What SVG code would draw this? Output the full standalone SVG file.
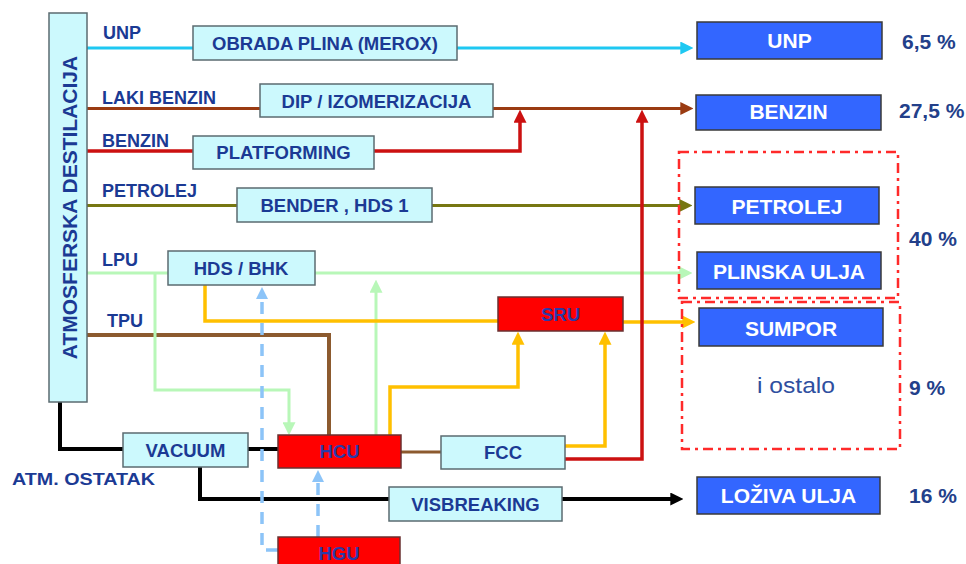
<svg xmlns="http://www.w3.org/2000/svg" width="966" height="564" viewBox="0 0 966 564">
<style>
.bx{fill:#CCF9FD;stroke:#5b6b70;stroke-width:1.5}
.rb{fill:#FF0000;stroke:#6a3030;stroke-width:1.5}
.ob{fill:#3366FF;stroke:#3a3a3a;stroke-width:1.5}
.dd{fill:none;stroke:#FF2A2A;stroke-width:2.5;stroke-dasharray:10 5 3 5}
.t{font-family:"Liberation Sans",Arial,sans-serif;font-weight:bold;fill:#1B3A94}
.bt{font-size:18.5px;text-anchor:middle}
.rt{fill:#2B3AA8}
.lb{font-size:18px}
.ot{font-family:"Liberation Sans",Arial,sans-serif;font-weight:bold;font-size:21px;fill:#FFFFFF;text-anchor:middle}
.pc{font-family:"Liberation Sans",Arial,sans-serif;font-weight:bold;font-size:21px;fill:#23408A}
.c{fill:none}
</style>
<defs>
<marker id="aCy" viewBox="0 0 12 12" refX="8" refY="6" markerWidth="13" markerHeight="13" markerUnits="userSpaceOnUse" orient="auto"><path d="M0,0 L12,6 L0,12 z" fill="#1EC8F2"/></marker>
<marker id="aBr" viewBox="0 0 12 12" refX="8" refY="6" markerWidth="13" markerHeight="13" markerUnits="userSpaceOnUse" orient="auto"><path d="M0,0 L12,6 L0,12 z" fill="#9A3B12"/></marker>
<marker id="aRd" viewBox="0 0 12 12" refX="8" refY="6" markerWidth="13" markerHeight="13" markerUnits="userSpaceOnUse" orient="auto"><path d="M0,0 L12,6 L0,12 z" fill="#CC1111"/></marker>
<marker id="aOl" viewBox="0 0 12 12" refX="8" refY="6" markerWidth="13" markerHeight="13" markerUnits="userSpaceOnUse" orient="auto"><path d="M0,0 L12,6 L0,12 z" fill="#777711"/></marker>
<marker id="aGr" viewBox="0 0 12 12" refX="8" refY="6" markerWidth="13" markerHeight="13" markerUnits="userSpaceOnUse" orient="auto"><path d="M0,0 L12,6 L0,12 z" fill="#B8F7B8"/></marker>
<marker id="aOr" viewBox="0 0 12 12" refX="8" refY="6" markerWidth="13" markerHeight="13" markerUnits="userSpaceOnUse" orient="auto"><path d="M0,0 L12,6 L0,12 z" fill="#FFC000"/></marker>
<marker id="aBk" viewBox="0 0 12 12" refX="8" refY="6" markerWidth="13" markerHeight="13" markerUnits="userSpaceOnUse" orient="auto"><path d="M0,0 L12,6 L0,12 z" fill="#000000"/></marker>
<marker id="aBl" viewBox="0 0 12 12" refX="8" refY="6" markerWidth="12" markerHeight="12" markerUnits="userSpaceOnUse" orient="auto"><path d="M0,0 L12,6 L0,12 z" fill="#8CC4F8"/></marker>
</defs>
<rect width="966" height="564" fill="#FFFFFF"/>

<g id="connectors">
  <path class="c" d="M87,48 H689" stroke="#1EC8F2" stroke-width="3" marker-end="url(#aCy)"/>
  <path class="c" d="M87,108.5 H689" stroke="#9A3B12" stroke-width="3" marker-end="url(#aBr)"/>
  <path class="c" d="M87,205.5 H688" stroke="#777711" stroke-width="3" marker-end="url(#aOl)"/>
  <path class="c" d="M87,273 H688" stroke="#B8F7B8" stroke-width="3" marker-end="url(#aGr)"/>
  <path class="c" d="M87,335 H329 V435" stroke="#8C5A2E" stroke-width="4"/>
  <path class="c" d="M60,402 V449 H278" stroke="#000000" stroke-width="4"/>
  <path class="c" d="M200,467 V499 H679" stroke="#000000" stroke-width="4" marker-end="url(#aBk)"/>
  <path class="c" d="M401,452 H441" stroke="#8C5A2E" stroke-width="3"/>
  <path class="c" d="M155,273 V390 H289 V431" stroke="#B8F7B8" stroke-width="3" marker-end="url(#aGr)"/>
  <path class="c" d="M376,435 V284" stroke="#B8F7B8" stroke-width="3" marker-end="url(#aGr)"/>
  <path class="c" d="M205,285 V321 H498" stroke="#FFC000" stroke-width="3.5"/>
  <path class="c" d="M623,322 H691" stroke="#FFC000" stroke-width="3.5" marker-end="url(#aOr)"/>
  <path class="c" d="M390,435 V387 H518 V336" stroke="#FFC000" stroke-width="3.5" marker-end="url(#aOr)"/>
  <path class="c" d="M565,446 H605 V336" stroke="#FFC000" stroke-width="3.5" marker-end="url(#aOr)"/>
  <path class="c" d="M87,151 H520 V114" stroke="#CC1111" stroke-width="3.5" marker-end="url(#aRd)"/>
  <path class="c" d="M565,459 H642 V114" stroke="#CC1111" stroke-width="3.5" marker-end="url(#aRd)"/>
  <path class="c" d="M278,550 H262 V291" stroke="#8CC4F8" stroke-width="3.5" stroke-dasharray="12 9" marker-end="url(#aBl)"/>
  <path class="c" d="M318,537 V474" stroke="#8CC4F8" stroke-width="3.5" stroke-dasharray="12 9" marker-end="url(#aBl)"/>
</g>

<g id="labels">
  <text class="t lb" x="103" y="39">UNP</text>
  <text class="t lb" x="102" y="104">LAKI BENZIN</text>
  <text class="t lb" x="102" y="147">BENZIN</text>
  <text class="t lb" x="102" y="197">PETROLEJ</text>
  <text class="t lb" x="102" y="266">LPU</text>
  <text class="t lb" x="107" y="327">TPU</text>
  <text class="t" x="12" y="485" font-size="16" textLength="143" lengthAdjust="spacingAndGlyphs">ATM. OSTATAK</text>
</g>

<g id="atm-destilacija">
  <rect class="bx" x="49" y="13" width="38" height="389"/>
  <text class="t" font-size="21" text-anchor="middle" transform="translate(77,207.5) rotate(-90)">ATMOSFERSKA DESTILACIJA</text>
</g>
<g id="merox">
  <rect class="bx" x="193" y="26" width="264" height="34"/>
  <text class="t bt" x="325" y="50">OBRADA PLINA (MEROX)</text>
</g>
<g id="dip">
  <rect class="bx" x="260" y="84" width="233" height="33"/>
  <text class="t bt" x="376.5" y="108">DIP / IZOMERIZACIJA</text>
</g>
<g id="platforming">
  <rect class="bx" x="193" y="136" width="181" height="33"/>
  <text class="t bt" x="283.5" y="159">PLATFORMING</text>
</g>
<g id="bender">
  <rect class="bx" x="237" y="188" width="195" height="34"/>
  <text class="t bt" x="334.5" y="212">BENDER , HDS 1</text>
</g>
<g id="hds-bhk">
  <rect class="bx" x="168" y="251" width="147" height="34"/>
  <text class="t bt" x="241" y="275">HDS / BHK</text>
</g>
<g id="sru">
  <rect class="rb" x="498" y="297" width="125" height="34"/>
  <text class="t bt rt" x="560.5" y="321">SRU</text>
</g>
<g id="vacuum">
  <rect class="bx" x="123" y="433" width="125" height="34"/>
  <text class="t bt" x="185.5" y="457">VACUUM</text>
</g>
<g id="hcu">
  <rect class="rb" x="278" y="435" width="123" height="33"/>
  <text class="t bt rt" x="339.5" y="458">HCU</text>
</g>
<g id="fcc">
  <rect class="bx" x="441" y="436" width="124" height="33"/>
  <text class="t bt" x="503" y="459">FCC</text>
</g>
<g id="visbreaking">
  <rect class="bx" x="389" y="487" width="173" height="34"/>
  <text class="t bt" x="475.5" y="511">VISBREAKING</text>
</g>
<g id="hgu">
  <rect class="rb" x="278" y="537" width="122" height="40"/>
  <text class="t bt rt" x="339" y="560">HGU</text>
</g>

<g id="group-40">
  <rect class="dd" x="679" y="152" width="219" height="146"/>
</g>
<g id="group-9">
  <rect class="dd" x="682" y="302" width="218" height="147"/>
  <text x="757" y="393" font-family="'Liberation Sans',Arial,sans-serif" font-size="22" fill="#2F4FA0" textLength="78" lengthAdjust="spacingAndGlyphs">i ostalo</text>
</g>

<g id="out-unp">
  <rect class="ob" x="697" y="22" width="185" height="37"/>
  <text class="ot" x="789.5" y="48">UNP</text>
</g>
<g id="out-benzin">
  <rect class="ob" x="696" y="95" width="185" height="35"/>
  <text class="ot" x="788.5" y="119">BENZIN</text>
</g>
<g id="out-petrolej">
  <rect class="ob" x="695" y="187" width="184" height="37"/>
  <text class="ot" x="787" y="213.5">PETROLEJ</text>
</g>
<g id="out-plinska">
  <rect class="ob" x="697" y="252" width="184" height="37"/>
  <text class="ot" x="789" y="278.5">PLINSKA ULJA</text>
</g>
<g id="out-sumpor">
  <rect class="ob" x="699" y="308" width="184" height="38"/>
  <text class="ot" x="791" y="335.5">SUMPOR</text>
</g>
<g id="out-loziva">
  <rect class="ob" x="697" y="477" width="183" height="37"/>
  <text class="ot" x="788.5" y="503">LOŽIVA ULJA</text>
</g>

<g id="percentages">
  <text class="pc" x="902" y="49">6,5 %</text>
  <text class="pc" x="899" y="118">27,5 %</text>
  <text class="pc" x="909" y="246">40 %</text>
  <text class="pc" x="909" y="395">9 %</text>
  <text class="pc" x="909" y="503">16 %</text>
</g>
</svg>
